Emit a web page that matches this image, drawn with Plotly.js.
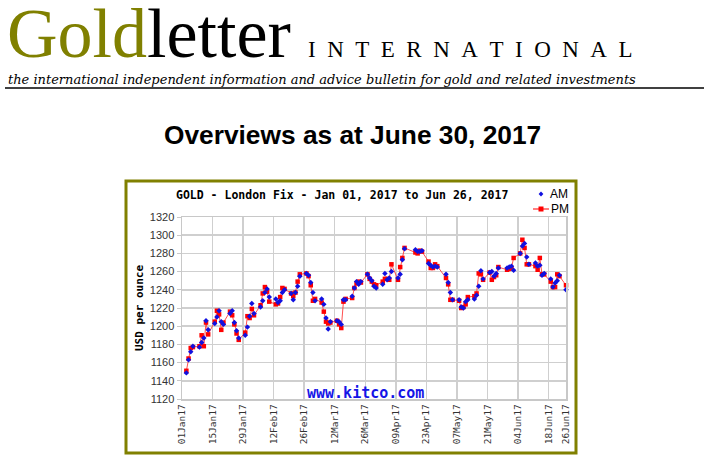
<!DOCTYPE html>
<html>
<head>
<meta charset="utf-8">
<script src="https://cdn.plot.ly/plotly-3.0.1.min.js"></script>
<style>html,body{margin:0;padding:0;background:#fff;}#chart{width:704px;height:460px;}</style>
</head>
<body>
<div id="chart"></div>
<script>
// ---- data ----
const dates = [
"2017-01-03","2017-01-04","2017-01-05","2017-01-06","2017-01-09","2017-01-10","2017-01-11","2017-01-12","2017-01-13",
"2017-01-16","2017-01-17","2017-01-18","2017-01-19","2017-01-20","2017-01-23","2017-01-24","2017-01-25","2017-01-26","2017-01-27",
"2017-01-30","2017-01-31","2017-02-01","2017-02-02","2017-02-03","2017-02-06","2017-02-07","2017-02-08","2017-02-09","2017-02-10",
"2017-02-13","2017-02-14","2017-02-15","2017-02-16","2017-02-17","2017-02-20","2017-02-21","2017-02-22","2017-02-23","2017-02-24",
"2017-02-27","2017-02-28","2017-03-01","2017-03-02","2017-03-03","2017-03-06","2017-03-07","2017-03-08","2017-03-09","2017-03-10",
"2017-03-13","2017-03-14","2017-03-15","2017-03-16","2017-03-17","2017-03-20","2017-03-21","2017-03-22","2017-03-23","2017-03-24",
"2017-03-27","2017-03-28","2017-03-29","2017-03-30","2017-03-31","2017-04-03","2017-04-04","2017-04-05","2017-04-06","2017-04-07",
"2017-04-10","2017-04-11","2017-04-12","2017-04-13","2017-04-18","2017-04-19","2017-04-20","2017-04-21","2017-04-24","2017-04-25",
"2017-04-26","2017-04-27","2017-04-28","2017-05-02","2017-05-03","2017-05-04","2017-05-05","2017-05-08","2017-05-09","2017-05-10",
"2017-05-11","2017-05-12","2017-05-15","2017-05-16","2017-05-17","2017-05-18","2017-05-19","2017-05-22","2017-05-23","2017-05-24",
"2017-05-25","2017-05-26","2017-05-30","2017-05-31","2017-06-01","2017-06-02","2017-06-05","2017-06-06","2017-06-07","2017-06-08",
"2017-06-09","2017-06-12","2017-06-13","2017-06-14","2017-06-15","2017-06-16","2017-06-19","2017-06-20","2017-06-21","2017-06-22",
"2017-06-23","2017-06-26"];
const amFix = [
1148.7,1163,1172,1178,1177,1182,1187,1206,1196,
1203,1210,1217,1205,1202,1214,1217,1204,1195,1187,
1190,1199,1211,1225,1214,1221,1228,1237,1241,1232,
1230,1226,1228,1237,1240,1236,1229,1237,1244,1255,
1258,1256,1248,1237,1228,1230,1224,1209,1197,1205,
1206,1205,1202,1229,1229,1233,1242,1249,1246,1249,
1257,1253,1250,1244,1242,1246,1258,1251,1253,1260,
1253,1257,1273,1285,1284,1282,1282,1283,1269,1267,
1265,1266,1265,1257,1248,1237,1229,1229,1221,1220,
1227,1229,1230,1234,1244,1261,1252,1259,1260,1255,
1258,1264,1264,1265,1266,1261.5,1280,1288,1291,1276,
1268,1269.5,1266,1267,1256,1258,1252,1243,1247.5,1250,
1256,1240];
const pmFix = [
1151,1164.5,1176,1177,1178,1190,1178,1204,1191,
1205,1217,1213,1196,1204,1216,1212,1202,1192,1185,
1193,1211,1209,1219,1212,1223,1236,1243,1238,1227,
1224,1225,1232,1242,1241,1236,1233,1237,1249,1257,
1258,1255,1245,1228,1230,1226,1216,1205,1203,1204,
1206,1202,1198,1227,1230,1231,1242,1247,1249,1248,
1257,1252,1249,1246,1245,1249,1252,1252,1251,1268,
1251,1265,1275,1286,1281,1280,1283,1282,1271,1264,
1264,1268,1266,1253,1246,1229,1229,1228,1220,1221,
1224,1232,1233,1236,1258,1257,1251,1259,1251,1254,
1256,1265,1262,1263,1264,1275,1280,1295,1286,1268,
1268,1266,1262,1275,1257,1257,1249,1243,1243,1257,
1255,1245];
const tickDates = ["2017-01-01","2017-01-15","2017-01-29","2017-02-12","2017-02-26","2017-03-12","2017-03-26",
"2017-04-09","2017-04-23","2017-05-07","2017-05-21","2017-06-04","2017-06-18","2017-06-26"];
const tickLabels = ["01Jan17","15Jan17","29Jan17","12Feb17","26Feb17","12Mar17","26Mar17",
"09Apr17","23Apr17","07May17","21May17","04Jun17","18Jun17","26Jun17"];
const yTicks = [1120,1140,1160,1180,1200,1220,1240,1260,1280,1300,1320];

// ---- geometry helpers (pixel -> paper) ----
const L = 182, R = 566, T = 217, B = 399;
const fx = x => (x - L) / (R - L);
const fy = y => (B - y) / (B - T);

const olive = "#808000";

const traces = [
  {x: dates, y: pmFix, type: "scatter", mode: "lines+markers", name: "PM",
   line: {color: "#ff3b3b", width: 0.9},
   marker: {symbol: "square", size: 4.5, color: "#ff0000"}, cliponaxis: false},
  {x: dates, y: amFix, type: "scatter", mode: "markers", name: "AM",
   marker: {symbol: "diamond", size: 4.2, color: "#1010e0"}, cliponaxis: false}
];

const ann = (text, x, y, font, xanchor, yanchor, extra) => Object.assign({
  text, x: fx(x), y: fy(y), xref: "paper", yref: "paper", showarrow: false,
  xanchor: xanchor || "center", yanchor: yanchor || "middle", font}, extra || {});

const annotations = [
  ann('<span style="color:' + olive + '">Gold</span>letter', 5, 33,
      {family: "Liberation Serif", size: 70, color: "#000"}, "left"),
  ann("I\u2002N\u2002T\u2002E\u2002R\u2002N\u2002A\u2002T\u2002I\u2002O\u2002N\u2002A\u2002L", 306, 49,
      {family: "Liberation Serif", size: 23, color: "#000"}, "left"),
  ann("the international independent information and advice bulletin for gold and related investments", 6, 79,
      {family: "DejaVu Serif", size: 13, color: "#000", style: "italic"}, "left"),
  ann("<b>Overviews as at June 30, 2017</b>", 352, 135,
      {family: "Liberation Sans", size: 26.3, color: "#000"}),
  ann("<b>GOLD - London Fix - Jan 01, 2017 to Jun 26, 2017</b>", 342, 195,
      {family: "DejaVu Sans Mono", size: 11.5, color: "#000"}),
  ann("AM", 548, 194, {family: "Liberation Sans", size: 12, color: "#000"}, "left"),
  ann("PM", 549, 209, {family: "Liberation Sans", size: 12, color: "#000"}, "left"),
  ann("<b>www.kitco.com</b>", 365, 393, {family: "DejaVu Sans Mono", size: 15, color: "#1515e6"})
];

const d = 2.4;
const shapes = [
  {type: "rect", xref: "paper", yref: "paper", x0: fx(126), x1: fx(576), y0: fy(181), y1: fy(453),
   line: {color: olive, width: 3}, layer: "below"},
  {type: "line", xref: "paper", yref: "paper", x0: fx(5), x1: fx(704), y0: fy(88), y1: fy(88),
   line: {color: "#000", width: 1.5}},
  // legend symbols
  {type: "path", xref: "paper", yref: "paper",
   path: `M ${fx(541)},${fy(194-d)} L ${fx(541+d)},${fy(194)} L ${fx(541)},${fy(194+d)} L ${fx(541-d)},${fy(194)} Z`,
   fillcolor: "#1010e0", line: {width: 0}},
  {type: "line", xref: "paper", yref: "paper", x0: fx(533), x1: fx(549), y0: fy(209), y1: fy(209),
   line: {color: "#ff2a2a", width: 1.2}},
  {type: "rect", xref: "paper", yref: "paper", x0: fx(538.5), x1: fx(543.5), y0: fy(206.5), y1: fy(211.5),
   fillcolor: "#ff0000", line: {width: 0}}
];

const layout = {
  width: 704, height: 460,
  margin: {l: L, r: 704 - R, t: T, b: 460 - B, pad: 0},
  paper_bgcolor: "#fff", plot_bgcolor: "#fff",
  showlegend: false,
  xaxis: {type: "date", range: ["2017-01-01", "2017-06-26"], tickmode: "array",
          tickvals: tickDates, ticktext: tickLabels, tickangle: -90,
          tickfont: {family: "DejaVu Sans Mono", size: 9.5, color: "#333"},
          showgrid: true, gridcolor: "#cfcfcf", gridwidth: 1.5,
          showline: true, linecolor: "#c8c8c8", linewidth: 1.5, mirror: true,
          ticks: "", zeroline: false, fixedrange: true},
  yaxis: {range: [1120, 1320], tickmode: "array", tickvals: yTicks,
          tickfont: {family: "Liberation Sans", size: 11, color: "#333"},
          showgrid: true, gridcolor: "#cfcfcf", gridwidth: 1.5,
          showline: true, linecolor: "#c8c8c8", linewidth: 1.5, mirror: true,
          ticks: "outside", ticklen: 4, tickcolor: "#c8c8c8",
          zeroline: false, fixedrange: true,
          title: {text: "<b>USD per ounce</b>", standoff: 4,
                  font: {family: "DejaVu Sans Mono", size: 11, color: "#000"}}},
  annotations, shapes
};

Plotly.newPlot("chart", traces, layout, {staticPlot: true, displayModeBar: false});
</script>
</body>
</html>
